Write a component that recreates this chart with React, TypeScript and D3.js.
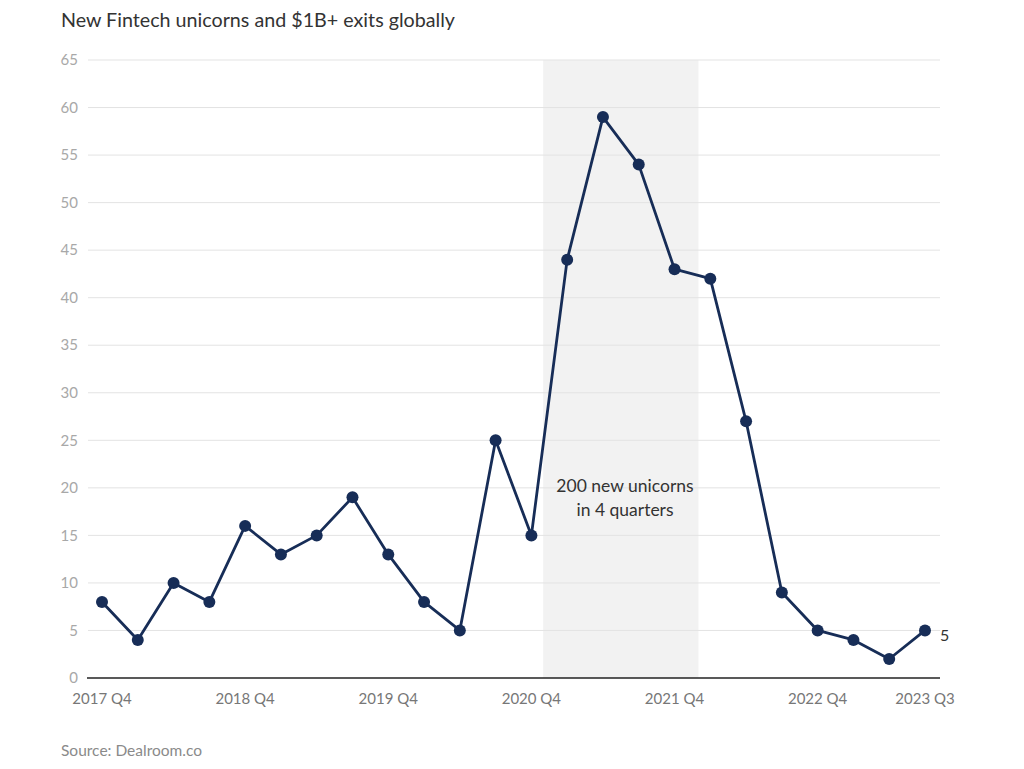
import React from "react";
import * as d3 from "d3";

const quarters = [
  "2017 Q4","2018 Q1","2018 Q2","2018 Q3","2018 Q4","2019 Q1","2019 Q2","2019 Q3",
  "2019 Q4","2020 Q1","2020 Q2","2020 Q3","2020 Q4","2021 Q1","2021 Q2","2021 Q3",
  "2021 Q4","2022 Q1","2022 Q2","2022 Q3","2022 Q4","2023 Q1","2023 Q2","2023 Q3",
];
const values = [8,4,10,8,16,13,15,19,13,8,5,25,15,44,59,54,43,42,27,9,5,4,2,5];
const xTickLabels = ["2017 Q4","2018 Q4","2019 Q4","2020 Q4","2021 Q4","2022 Q4","2023 Q3"];
const yTicks = [0,5,10,15,20,25,30,35,40,45,50,55,60,65];
const bandRange = [12.33, 16.67];
const annotationLines = ["200 new unicorns", "in 4 quarters"];

export default function App() {
  const W = 1024, H = 769;
  const x = d3.scaleLinear().domain([0, quarters.length - 1]).range([102, 925]);
  const y = d3.scaleLinear().domain([0, 65]).range([678, 60]);
  const line = d3.line<number>().x((_, i) => x(i)).y((d) => y(d));
  const font = "Lato, 'Source Sans Pro', sans-serif";
  const color = "#172d57";
  return (
    <svg width={W} height={H} style={{ position: "absolute", left: 0, top: 0 }} fontFamily={font}>
      <rect width={W} height={H} fill="#fff" />
      <text x={61} y={27} fontSize={19.7} fill="#333">New Fintech unicorns and $1B+ exits globally</text>
      <rect x={x(bandRange[0])} y={y(65)} width={x(bandRange[1]) - x(bandRange[0])} height={y(0) - y(65)} fill="#f2f2f2" />
      {yTicks.map((t) => (
        <g key={t}>
          {t > 0 && <line x1={88} x2={940} y1={y(t)} y2={y(t)} stroke="#e3e3e3" strokeWidth={1} />}
          <text x={78} y={y(t)} dy="0.35em" textAnchor="end" fontSize={15} fill="#a8a8a8">{t}</text>
        </g>
      ))}
      <line x1={87} x2={940} y1={y(0)} y2={y(0)} stroke="#222" strokeWidth={1.5} />
      {xTickLabels.map((lbl) => (
        <text key={lbl} x={x(quarters.indexOf(lbl))} y={704} textAnchor="middle" fontSize={15} fill="#777">{lbl}</text>
      ))}
      {annotationLines.map((l, i) => (
        <text key={l} x={625} y={492 + i * 24} textAnchor="middle" fontSize={17.5} fill="#333">{l}</text>
      ))}
      <path d={line(values) || ""} fill="none" stroke={color} strokeWidth={2.8} strokeLinejoin="round" />
      {values.map((v, i) => (
        <circle key={i} cx={x(i)} cy={y(v)} r={6} fill={color} />
      ))}
      <text x={x(values.length - 1) + 15} y={y(values[values.length - 1]) + 4} dy="0.4em" fontSize={16} fill="#333">{values[values.length - 1]}</text>
      <text x={61} y={756} fontSize={15.5} fill="#8a8a8a">Source: Dealroom.co</text>
    </svg>
  );
}
